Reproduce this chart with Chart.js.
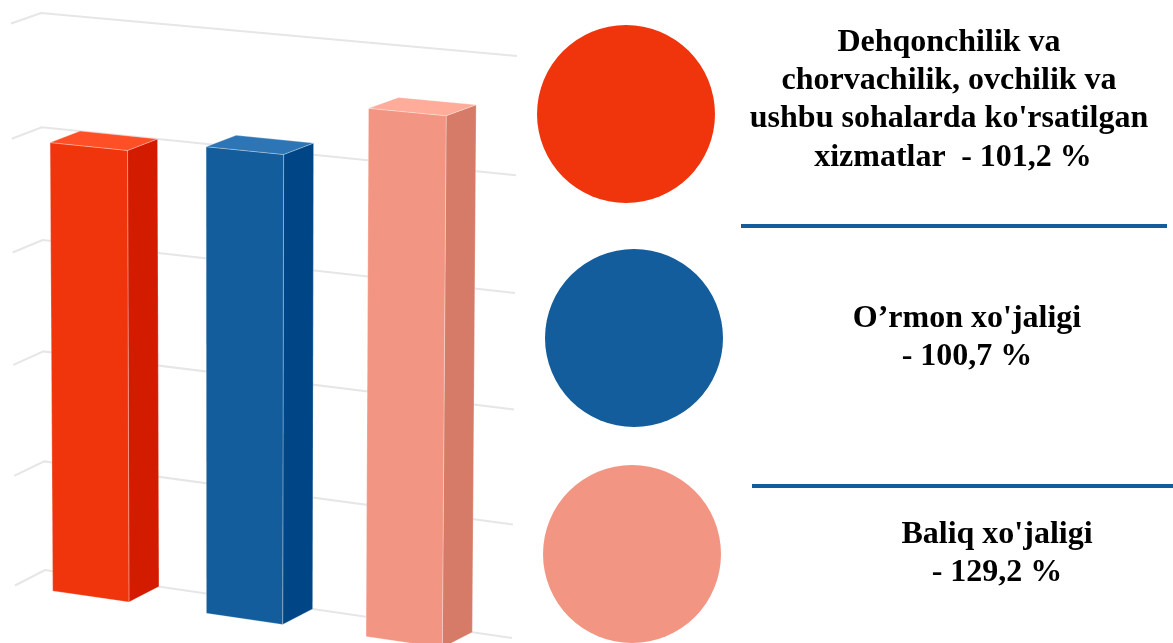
<!DOCTYPE html>
<html>
<head>
<meta charset="utf-8">
<script src="https://cdn.jsdelivr.net/npm/chart.js@4"></script>
<style>
  html, body { margin: 0; padding: 0; background: #fff; }
  #page { position: relative; width: 1173px; height: 643px; overflow: hidden; }
  canvas { position: absolute; left: 0; top: 0; }
  .dot { position: absolute; width: 178px; height: 178px; border-radius: 50%; }
  .rule { position: absolute; height: 4px; background: #135d9c; }
  .txt { position: absolute; transform: translateX(-50%); text-align: center; white-space: pre; color: #000;
    font: bold 32px/38.2px "Liberation Serif", serif; }
</style>
</head>
<body>
<div id="page"><canvas id="chart" width="1173" height="643"></canvas></div>
<script>
// bar heights are read against the grid, the picture does not draw them to the printed percentages
const categories = ['Dehqonchilik', 'Ormon', 'Baliq'];
const barValues = [100, 102.5, 114];
const labelLines = [
  ["Dehqonchilik va", "chorvachilik, ovchilik va", "ushbu sohalarda ko'rsatilgan", " xizmatlar  - 101,2 %"],
  ["O’rmon xo'jaligi", "- 100,7 %"],
  ["Baliq xo'jaligi", "- 129,2 %"],
];
const frontColors = ['#f0350d', '#135d9c', '#f29582'];
const sideColors = ['#d31b00', '#004585', '#d67b67'];
const topColors = ['#ff4f26', '#2e75b5', '#ffac9b'];
const yMax = 125, yStep = 25;

// back wall corners on screen
const wall = { tl: [41, 13], tr: [517, 56], bl: [45, 570], br: [512, 638] };
const lerp = (a, b, t) => a + (b - a) * t;
// the bars are not quite evenly spaced in the picture
const barNudge = [-2, -4, 0];

function project(area, px, py) {
  const u = (px - area.left) / (area.right - area.left);
  const v = (py - area.top) / (area.bottom - area.top);
  return [
    lerp(lerp(wall.tl[0], wall.tr[0], u), lerp(wall.bl[0], wall.br[0], u), v),
    lerp(lerp(wall.tl[1], wall.tr[1], u), lerp(wall.bl[1], wall.br[1], u), v) + 17.5 * v * (1 - v),
    v,
  ];
}
// step from the back plane towards the viewer
const forward = (p) => [p[0] - 30, p[1] + 10.5 + 5 * p[2]];

function face(ctx, pts, color) {
  ctx.beginPath();
  pts.forEach((p, i) => (i ? ctx.lineTo(p[0], p[1]) : ctx.moveTo(p[0], p[1])));
  ctx.closePath();
  ctx.fillStyle = color;
  ctx.fill();
  ctx.strokeStyle = 'rgba(255,255,255,.28)';
  ctx.lineWidth = 1;
  ctx.stroke();
}

const wallGrid = {
  id: 'wallGrid',
  beforeDatasetsDraw(chart) {
    const { ctx, chartArea: a, scales: { y } } = chart;
    ctx.save();
    ctx.strokeStyle = '#e6e6e6';
    ctx.lineWidth = 2;
    y.ticks.forEach((t) => {
      const py = y.getPixelForValue(t.value);
      const l = project(a, a.left, py), r = project(a, a.right, py), f = forward(l);
      ctx.beginPath();
      ctx.moveTo(f[0], f[1]);
      ctx.lineTo(l[0], l[1]);
      ctx.lineTo(r[0], r[1]);
      ctx.stroke();
    });
    ctx.restore();
  },
};

const bars3d = {
  id: 'bars3d',
  // the library positions the bars, this only paints them in perspective
  beforeDatasetDraw(chart, args) {
    const { ctx, chartArea: a } = chart;
    args.meta.data.forEach((bar, i) => {
      const cx = bar.x + barNudge[i];
      const l = cx - bar.width / 2, r = cx + bar.width / 2;
      const btl = project(a, l, bar.y), btr = project(a, r, bar.y), bbr = project(a, r, bar.base);
      const bbl = project(a, l, bar.base);
      const ftl = forward(btl), ftr = forward(btr), fbr = forward(bbr), fbl = forward(bbl);
      ctx.save();
      face(ctx, [ftr, btr, bbr, fbr], sideColors[i]);
      face(ctx, [ftl, ftr, fbr, fbl], frontColors[i]);
      face(ctx, [btl, btr, ftr, ftl], topColors[i]);
      ctx.restore();
    });
    return false;
  },
};

new Chart(document.getElementById('chart'), {
  type: 'bar',
  data: {
    labels: categories,
    datasets: [{ data: barValues, backgroundColor: frontColors, categoryPercentage: 1, barPercentage: 0.49 }],
  },
  options: {
    responsive: false,
    animation: false,
    layout: { padding: { left: 41, right: 656, top: 13, bottom: 73 } },
    plugins: { legend: { display: false }, tooltip: { enabled: false } },
    scales: {
      x: { grid: { display: false }, border: { display: false }, ticks: { display: false } },
      y: { min: 0, max: yMax, grid: { display: false }, border: { display: false },
        ticks: { display: false, stepSize: yStep } },
    },
  },
  plugins: [wallGrid, bars3d],
});

// legend side, circles + text
const page = document.getElementById('page');
const add = (cls, style, text) => {
  const d = document.createElement('div');
  d.className = cls;
  Object.assign(d.style, style);
  if (text) d.textContent = text;
  page.append(d);
};
const dotPos = [[537, 25], [545, 249], [543, 465]];
const txtPos = [[949, 21], [967, 297], [997, 513]];
frontColors.forEach((c, i) => {
  add('dot', { left: dotPos[i][0] + 'px', top: dotPos[i][1] + 'px', background: c });
  add('txt', { left: txtPos[i][0] + 'px', top: txtPos[i][1] + 'px' }, labelLines[i].join('\n'));
});
add('rule', { left: '741px', top: '224px', width: '426px' });
add('rule', { left: '752px', top: '484px', width: '421px' });
</script>
</body>
</html>
